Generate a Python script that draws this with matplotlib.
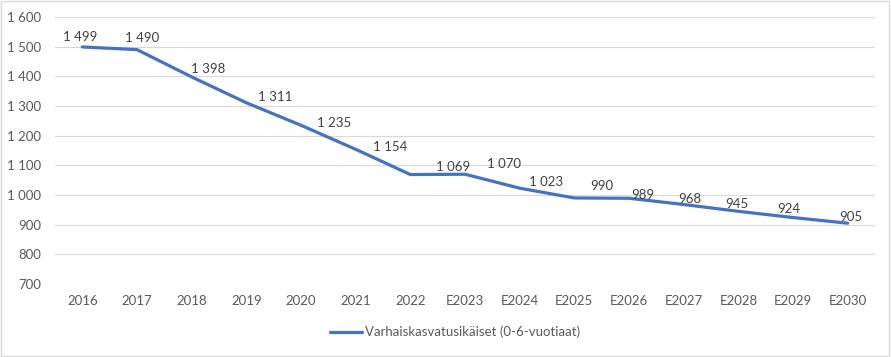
import matplotlib.pyplot as plt
from matplotlib.patches import Rectangle

years = ['2016', '2017', '2018', '2019', '2020', '2021', '2022', 'E2023', 'E2024',
         'E2025', 'E2026', 'E2027', 'E2028', 'E2029', 'E2030']
children = [1499, 1490, 1398, 1311, 1235, 1154, 1069, 1070, 1023, 990, 989, 968, 945, 924, 905]
series_name = 'Varhaiskasvatusikäiset (0-6-vuotiaat)'

# label offsets in pixels (dx, dy)
label_dx = [-2, 5, 16, 29, 33, 35, 43, 39, 26, 27, 14, 6, -1, -4, 3]
label_dy = [10, 12, 8, 6, 2, 2, 8, 10, 6, 12, 3, 5, 7, 9, 6]

def fmt(v):
    return f"{v:,}".replace(",", " ")

plt.rcParams['font.family'] = ['Lato', 'DejaVu Sans']
text_col = '#595959'
blue = '#4472C4'

fig = plt.figure(figsize=(8.91, 3.57), dpi=100)
ax = fig.add_axes([55/891, 1-284/357, 820/891, 267/357])

x = range(len(years))
ax.plot(x, children, color=blue, lw=2.3, solid_capstyle='round', label=series_name)
for i, v in enumerate(children):
    ax.annotate(fmt(v), (i, v), xytext=(label_dx[i], label_dy[i]), textcoords='offset pixels',
                ha='center', va='center', fontsize=9.5, color='#404040')

ax.set_xlim(-0.5, len(years) - 0.5)
ax.set_ylim(700, 1600)
ax.set_yticks(range(700, 1601, 100))
ax.set_yticklabels([fmt(t) for t in range(700, 1601, 100)])
ax.set_xticks(list(x))
ax.set_xticklabels(years)
ax.tick_params(length=0, labelsize=9.5, colors=text_col)
ax.tick_params(axis='y', pad=10)
ax.tick_params(axis='x', pad=8)
ax.grid(axis='y', color='#D9D9D9', lw=0.8)
ax.set_axisbelow(True)
for s in ax.spines.values():
    s.set_visible(False)

fig.legend(loc='center', bbox_to_anchor=(455/891, 1-332/357), frameon=False,
           fontsize=9.5, handlelength=2.4, handletextpad=0.2, labelcolor=text_col)

fig.patches.append(Rectangle((0.001, 0.002), 0.997, 0.995, transform=fig.transFigure,
                             fill=False, edgecolor='#D9D9D9', lw=1))

plt.savefig('out.png', dpi=100)
